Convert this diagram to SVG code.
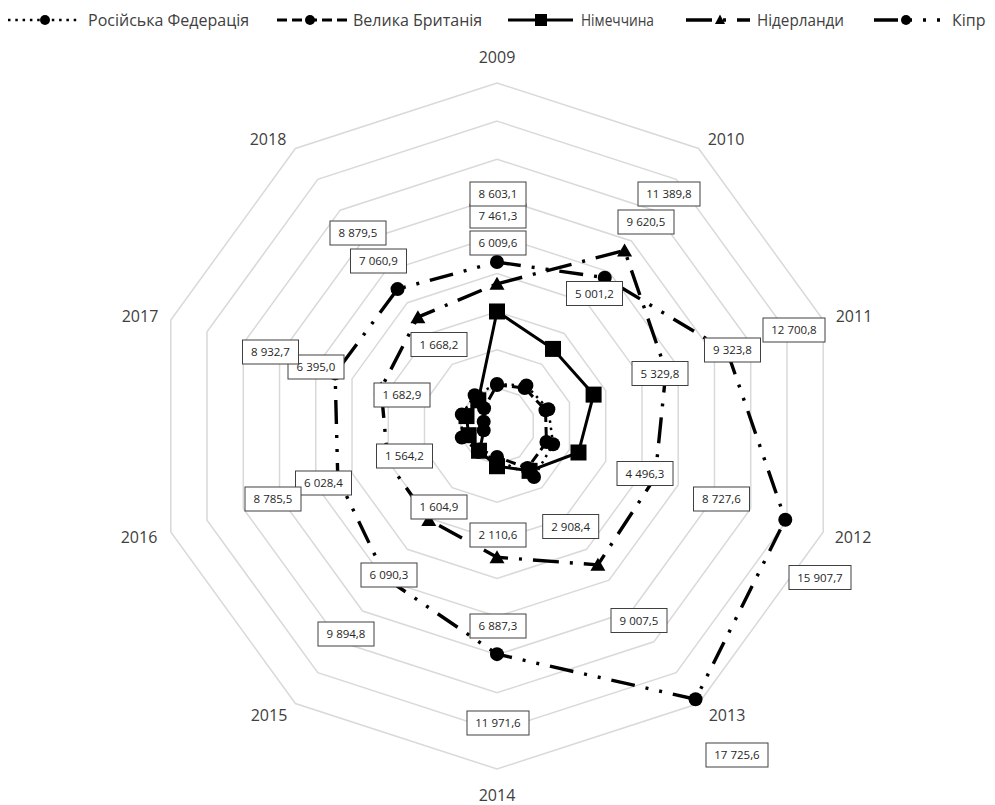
<svg xmlns="http://www.w3.org/2000/svg" xmlns:xlink="http://www.w3.org/1999/xlink" width="995" height="805" viewBox="0 0 995 805">
<style>
.grid{fill:none;stroke:#d9d9d9;stroke-width:1.5}
.ax{font-family:"Open Sans","Noto Sans","DejaVu Sans",sans-serif;font-size:16px;fill:#404040;text-anchor:middle}
.leg{font-family:"Open Sans","Noto Sans","DejaVu Sans",sans-serif;font-size:16px;fill:#404040}
.dl rect{fill:#fff;stroke:#404040;stroke-width:1}
.dl text{font-family:"Open Sans","Noto Sans","DejaVu Sans",sans-serif;font-size:11.5px;fill:#262626;text-anchor:middle}
.ser{fill:none;stroke:#000;stroke-linejoin:round}
.ru{stroke-width:2.5;stroke-dasharray:2.5 4.8}
.uk{stroke-width:3;stroke-dasharray:10 5}
.de{stroke-width:3}
.nl{stroke-width:3.4;stroke-dasharray:26 11 3 11}
.cy{stroke-width:3.4;stroke-dasharray:24 11 3 11 3 11}
.mk{fill:#000}
</style>
<defs>
<circle id="mc" r="7"/>
<rect id="ms" x="-8" y="-8" width="16" height="16"/>
<path id="mt" d="M0,-7 L7.5,6 L-7.5,6 Z"/>
<circle id="lc" r="5"/>
<rect id="ls" x="-6" y="-6" width="12" height="12"/>
<path id="lt" d="M0,-5.5 L5,4 L-5,4 Z"/>
</defs>
<rect width="995" height="805" fill="#fff"/>
<g id="grid">
<polygon class="grid" points="497,387.89 519.4,395.17 533.24,414.22 533.24,437.78 519.4,456.83 497,464.11 474.6,456.83 460.76,437.78 460.76,414.22 474.6,395.17"/>
<polygon class="grid" points="497,349.78 541.8,364.34 569.49,402.45 569.49,449.55 541.8,487.66 497,502.22 452.2,487.66 424.51,449.55 424.51,402.45 452.2,364.34"/>
<polygon class="grid" points="497,311.67 564.2,333.5 605.73,390.67 605.73,461.33 564.2,518.5 497,540.33 429.8,518.5 388.27,461.33 388.27,390.67 429.8,333.5"/>
<polygon class="grid" points="497,273.56 586.6,302.67 641.98,378.89 641.98,473.11 586.6,549.33 497,578.44 407.4,549.33 352.02,473.11 352.02,378.89 407.4,302.67"/>
<polygon class="grid" points="497,235.44 609.01,271.83 678.23,367.11 678.23,484.89 609.01,580.17 497,616.56 384.99,580.17 315.77,484.89 315.77,367.11 384.99,271.83"/>
<polygon class="grid" points="497,197.33 631.41,241 714.48,355.34 714.48,496.66 631.41,611 497,654.67 362.59,611 279.52,496.66 279.52,355.34 362.59,241"/>
<polygon class="grid" points="497,159.22 653.81,210.17 750.72,343.56 750.72,508.44 653.81,641.83 497,692.78 340.19,641.83 243.28,508.44 243.28,343.56 340.19,210.17"/>
<polygon class="grid" points="497,121.11 676.21,179.34 786.97,331.78 786.97,520.22 676.21,672.66 497,730.89 317.79,672.66 207.03,520.22 207.03,331.78 317.79,179.34"/>
<polygon class="grid" points="497,83 698.61,148.51 823.21,320.01 823.21,531.99 698.61,703.49 497,769 295.39,703.49 170.79,531.99 170.79,320.01 295.39,148.51"/>
</g>
<g id="axis-labels">
<text class="ax" x="497" y="62.7">2009</text>
<text class="ax" x="726" y="144.7">2010</text>
<text class="ax" x="854" y="321.7">2011</text>
<text class="ax" x="853" y="542.7">2012</text>
<text class="ax" x="727" y="720.7">2013</text>
<text class="ax" x="497" y="800.7">2014</text>
<text class="ax" x="269" y="720.7">2015</text>
<text class="ax" x="139" y="542.7">2016</text>
<text class="ax" x="140" y="321.7">2017</text>
<text class="ax" x="268" y="144.7">2018</text>
</g>
<g id="connectors">
<g id="series-ru">
<polygon class="ser ru" points="497,384 526.39,385.55 548.36,409.31 553.11,444.23 534.03,476.97 497,460 478.19,451.89 461.81,437.43 461.81,414.57 474.66,395.26"/>
<g class="mk"><use xlink:href="#mc" x="497" y="384"/><use xlink:href="#mc" x="526.39" y="385.55"/><use xlink:href="#mc" x="548.36" y="409.31"/><use xlink:href="#mc" x="553.11" y="444.23"/><use xlink:href="#mc" x="534.03" y="476.97"/><use xlink:href="#mc" x="497" y="460"/><use xlink:href="#mc" x="478.19" y="451.89"/><use xlink:href="#mc" x="461.81" y="437.43"/><use xlink:href="#mc" x="461.81" y="414.57"/><use xlink:href="#mc" x="474.66" y="395.26"/></g>
</g>
<g id="series-uk">
<polygon class="ser uk" points="497,385 524.63,387.98 545.5,410.24 546.45,442.07 527.56,468.07 497,457 479.95,449.46 483.69,430.33 483.69,421.67 484.07,408.2"/>
<g class="mk"><use xlink:href="#mc" x="497" y="385"/><use xlink:href="#mc" x="524.63" y="387.98"/><use xlink:href="#mc" x="545.5" y="410.24"/><use xlink:href="#mc" x="546.45" y="442.07"/><use xlink:href="#mc" x="527.56" y="468.07"/><use xlink:href="#mc" x="497" y="457"/><use xlink:href="#mc" x="479.95" y="449.46"/><use xlink:href="#mc" x="483.69" y="430.33"/><use xlink:href="#mc" x="483.69" y="421.67"/><use xlink:href="#mc" x="484.07" y="408.2"/></g>
</g>
<g id="series-de">
<polygon class="ser de" points="497,311.48 553.02,348.9 593.6,394.61 578.49,452.48 529.58,470.84 497,466.22 479.03,450.74 468.65,435.21 466.5,416.09 478.31,400.28"/>
<g class="mk"><use xlink:href="#ms" x="497" y="311.48"/><use xlink:href="#ms" x="553.02" y="348.9"/><use xlink:href="#ms" x="593.6" y="394.61"/><use xlink:href="#ms" x="578.49" y="452.48"/><use xlink:href="#ms" x="529.58" y="470.84"/><use xlink:href="#ms" x="497" y="466.22"/><use xlink:href="#ms" x="479.03" y="450.74"/><use xlink:href="#ms" x="468.65" y="435.21"/><use xlink:href="#ms" x="466.5" y="416.09"/><use xlink:href="#ms" x="478.31" y="400.28"/></g>
</g>
<g id="series-nl">
<polygon class="ser nl" points="497,283.82 624.57,250.41 665.97,371.1 655.17,477.39 597.89,564.87 497,557.24 428.79,519.89 387.74,461.5 381.1,388.34 417.91,317.15"/>
<g class="mk"><use xlink:href="#mt" x="497" y="283.82"/><use xlink:href="#mt" x="624.57" y="250.41"/><use xlink:href="#mt" x="665.97" y="371.1"/><use xlink:href="#mt" x="655.17" y="477.39"/><use xlink:href="#mt" x="597.89" y="564.87"/><use xlink:href="#mt" x="497" y="557.24"/><use xlink:href="#mt" x="428.79" y="519.89"/><use xlink:href="#mt" x="387.74" y="461.5"/><use xlink:href="#mt" x="381.1" y="388.34"/><use xlink:href="#mt" x="417.91" y="317.15"/></g>
</g>
<g id="series-cy">
<polygon class="ser cy" points="497,262.06 604.76,277.68 727.18,351.21 785.3,519.68 695.54,699.27 497,654.13 386.17,578.55 337.77,477.74 335.11,373.4 397.54,289.11"/>
<g class="mk"><use xlink:href="#mc" x="497" y="262.06"/><use xlink:href="#mc" x="604.76" y="277.68"/><use xlink:href="#mc" x="727.18" y="351.21"/><use xlink:href="#mc" x="785.3" y="519.68"/><use xlink:href="#mc" x="695.54" y="699.27"/><use xlink:href="#mc" x="497" y="654.13"/><use xlink:href="#mc" x="386.17" y="578.55"/><use xlink:href="#mc" x="337.77" y="477.74"/><use xlink:href="#mc" x="335.11" y="373.4"/><use xlink:href="#mc" x="397.54" y="289.11"/></g>
</g>
</g>
<g id="labels-de" class="dl">
<rect x="470" y="231" width="56" height="24"/><text x="498" y="247.1">6 009,6</text>
<rect x="566.5" y="281.5" width="56" height="24"/><text x="594.5" y="297.6">5 001,2</text>
<rect x="632" y="361.5" width="56" height="24"/><text x="660" y="377.6">5 329,8</text>
<rect x="617" y="461.5" width="56" height="24"/><text x="645" y="477.6">4 496,3</text>
<rect x="542.7" y="514.5" width="56" height="24"/><text x="570.7" y="530.6">2 908,4</text>
<rect x="470" y="523" width="56" height="24"/><text x="498" y="539.1">2 110,6</text>
<rect x="411" y="495" width="56" height="24"/><text x="439" y="511.1">1 604,9</text>
<rect x="376.5" y="444" width="56" height="24"/><text x="404.5" y="460.1">1 564,2</text>
<rect x="374" y="383" width="56" height="24"/><text x="402" y="399.1">1 682,9</text>
<rect x="411" y="332.5" width="56" height="24"/><text x="439" y="348.6">1 668,2</text>
</g>
<g id="labels-nl" class="dl">
<rect x="470" y="204" width="56" height="24"/><text x="498" y="220.1">7 461,3</text>
<rect x="618" y="210" width="56" height="24"/><text x="646" y="226.1">9 620,5</text>
<rect x="704.5" y="338" width="56" height="24"/><text x="732.5" y="354.1">9 323,8</text>
<rect x="693.5" y="487" width="56" height="24"/><text x="721.5" y="503.1">8 727,6</text>
<rect x="611" y="608.5" width="56" height="24"/><text x="639" y="624.6">9 007,5</text>
<rect x="470" y="614" width="56" height="24"/><text x="498" y="630.1">6 887,3</text>
<rect x="361" y="563" width="56" height="24"/><text x="389" y="579.1">6 090,3</text>
<rect x="295.5" y="471" width="56" height="24"/><text x="323.5" y="487.1">6 028,4</text>
<rect x="288" y="355" width="56" height="24"/><text x="316" y="371.1">6 395,0</text>
<rect x="350.5" y="249" width="56" height="24"/><text x="378.5" y="265.1">7 060,9</text>
</g>
<g id="labels-cy" class="dl">
<rect x="470" y="182" width="56" height="24"/><text x="498" y="198.1">8 603,1</text>
<rect x="638" y="182" width="62" height="24"/><text x="669" y="198.1">11 389,8</text>
<rect x="763" y="318" width="62" height="24"/><text x="794" y="334.1">12 700,8</text>
<rect x="789" y="565.5" width="62" height="24"/><text x="820" y="581.6">15 907,7</text>
<rect x="706" y="743" width="62" height="24"/><text x="737" y="759.1">17 725,6</text>
<rect x="467" y="711" width="62" height="24"/><text x="498" y="727.1">11 971,6</text>
<rect x="318" y="622" width="56" height="24"/><text x="346" y="638.1">9 894,8</text>
<rect x="245" y="487" width="56" height="24"/><text x="273" y="503.1">8 785,5</text>
<rect x="242.5" y="340" width="56" height="24"/><text x="270.5" y="356.1">8 932,7</text>
<rect x="330" y="221" width="56" height="24"/><text x="358" y="237.1">8 879,5</text>
</g>
<g id="legend">
<g id="legend-ru"><line class="ser ru" x1="8" y1="20" x2="77" y2="20"/><use class="mk" xlink:href="#lc" x="45" y="20"/><text class="leg" x="88" y="25.5">Російська Федерація</text></g>
<g id="legend-uk"><line class="ser uk" x1="277" y1="20" x2="347" y2="20"/><use class="mk" xlink:href="#lc" x="310" y="20"/><text class="leg" x="353" y="25.5">Велика Британія</text></g>
<g id="legend-de"><line class="ser de" x1="508" y1="20" x2="573" y2="20"/><use class="mk" xlink:href="#ls" x="541" y="20"/><text class="leg" x="581" y="25.5" textLength="73" lengthAdjust="spacingAndGlyphs">Німеччина</text></g>
<g id="legend-nl"><line class="ser nl" x1="686" y1="20" x2="750" y2="20"/><use class="mk" xlink:href="#lt" x="720" y="20"/><text class="leg" x="757" y="25.5" textLength="87" lengthAdjust="spacingAndGlyphs">Нідерланди</text></g>
<g id="legend-cy"><line class="ser cy" x1="874" y1="20" x2="940" y2="20"/><use class="mk" xlink:href="#lc" x="906" y="20"/><text class="leg" x="952" y="25.5">Кіпр</text></g>
</g>
</svg>
